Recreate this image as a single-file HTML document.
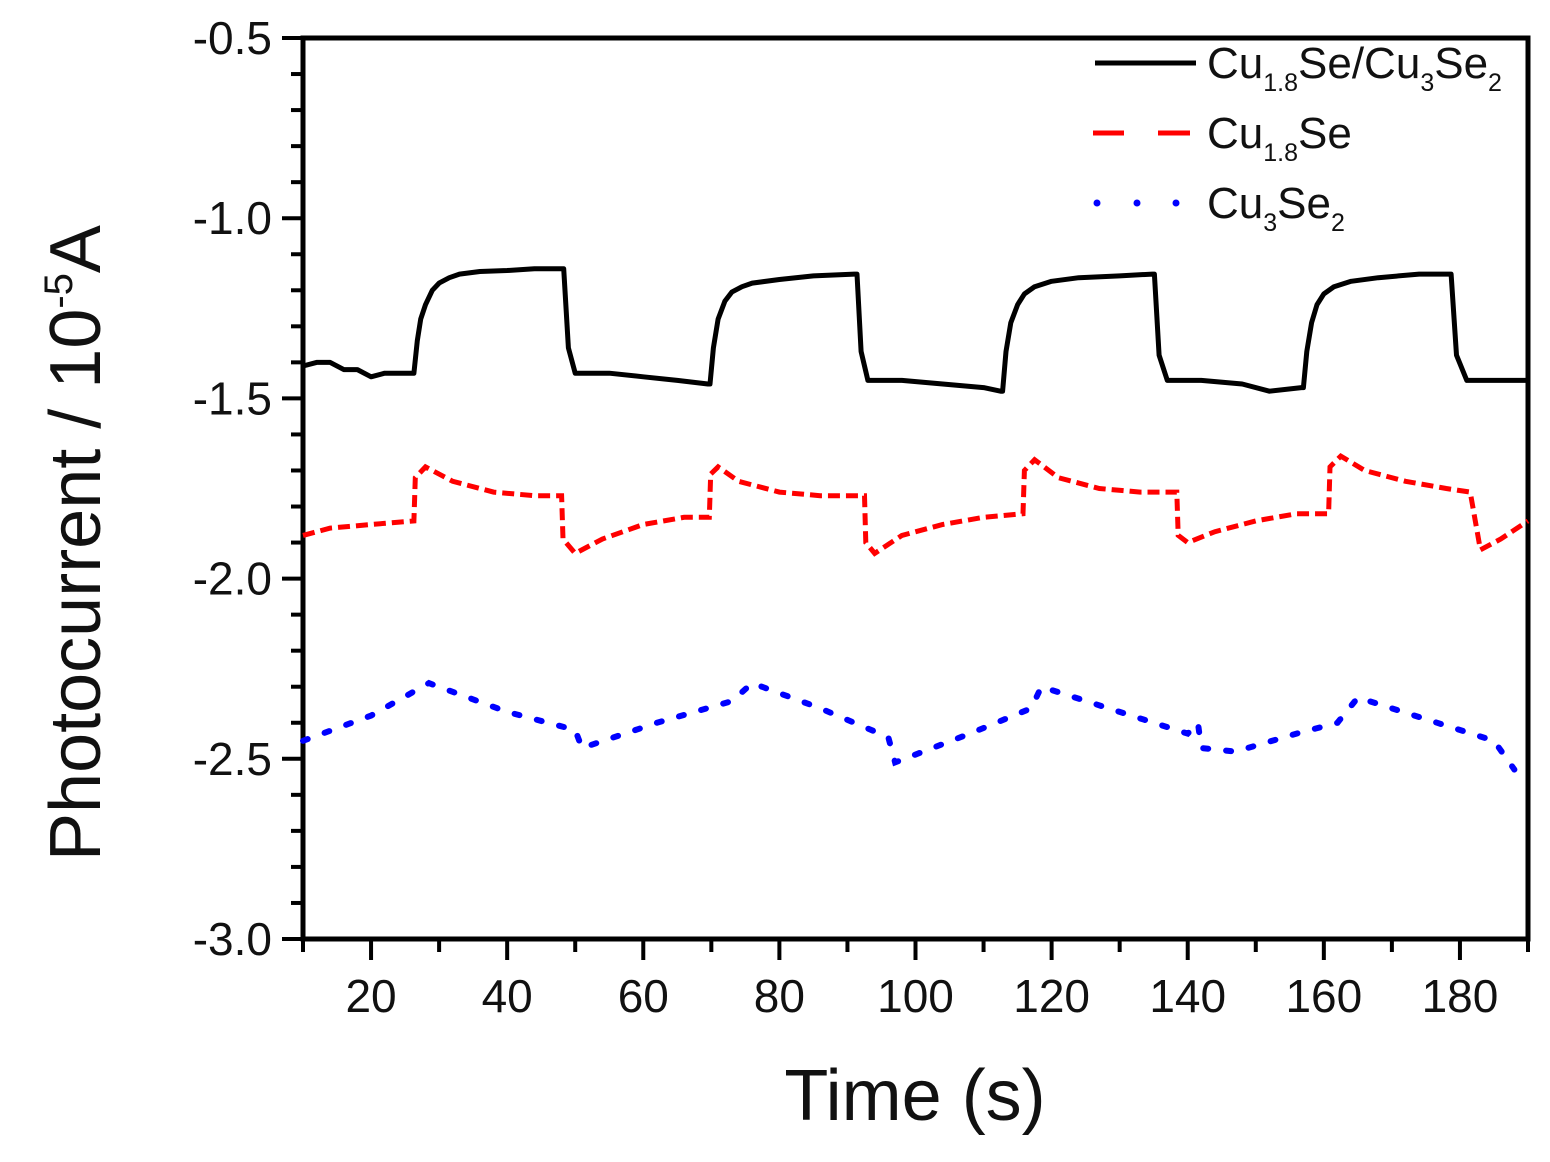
<!DOCTYPE html>
<html><head><meta charset="utf-8"><style>
html,body{margin:0;padding:0;background:#fff;}
svg{display:block;font-family:"Liberation Sans",sans-serif;}
</style></head><body>
<svg id="chart" width="1550" height="1162" viewBox="0 0 1550 1162" xmlns="http://www.w3.org/2000/svg">
<rect width="1550" height="1162" fill="#fff"/>
<g id="axes"></g>
<g id="series"></g>
<g>
 <line x1="1095" y1="63" x2="1196" y2="63" stroke="#000" stroke-width="5"/>
 <text x="1207" y="78" font-size="44" fill="#111">Cu<tspan font-size="25" dy="13">1.8</tspan><tspan dy="-13">Se/Cu</tspan><tspan font-size="25" dy="13">3</tspan><tspan dy="-13">Se</tspan><tspan font-size="25" dy="13">2</tspan></text>
 <line x1="1093" y1="133" x2="1124" y2="133" stroke="#f00" stroke-width="5"/>
 <line x1="1158" y1="133" x2="1190" y2="133" stroke="#f00" stroke-width="5"/>
 <text x="1207" y="148" font-size="44" fill="#111">Cu<tspan font-size="25" dy="13">1.8</tspan><tspan dy="-13">Se</tspan></text>
 <circle cx="1097" cy="203" r="3.5" fill="#00f"/><circle cx="1137" cy="203" r="3.5" fill="#00f"/><circle cx="1176" cy="203" r="3.5" fill="#00f"/>
 <text x="1207" y="218" font-size="44" fill="#111">Cu<tspan font-size="25" dy="13">3</tspan><tspan dy="-13">Se</tspan><tspan font-size="25" dy="13">2</tspan></text>
</g>
<text x="915" y="1120" font-size="72" text-anchor="middle" fill="#111">Time (s)</text>
<text transform="translate(100,543) rotate(-90)" font-size="72" text-anchor="middle" fill="#111">Photocurrent / 10<tspan font-size="40" dy="-28">-5</tspan><tspan dy="28">A</tspan></text>
</svg>
<script>
const xTicks=[20,40,60,80,100,120,140,160,180];
const yTicks=[-0.5,-1.0,-1.5,-2.0,-2.5,-3.0];
const yTickLabels=["-0.5","-1.0","-1.5","-2.0","-2.5","-3.0"];
const blackT=[10,12,14,16,18,20,22,25,26.3,26.8,27.3,28,29,30,31.5,33,36,40,44,48,48.3,49,50,55,60,65,69.5,69.8,70.3,71,72,73,74.5,76,80,85,91,91.4,92,93,98,104,110,112.5,112.8,113.3,114,115,116,117.5,120,124,130,134.8,135.1,135.8,137,142,148,152,156.7,157,157.5,158.2,159,160,161.5,164,168,174,178.4,178.7,179.5,181,185,190];
const blackV=[-1.41,-1.40,-1.40,-1.42,-1.42,-1.44,-1.43,-1.43,-1.43,-1.34,-1.28,-1.24,-1.20,-1.18,-1.165,-1.155,-1.148,-1.145,-1.14,-1.14,-1.14,-1.36,-1.43,-1.43,-1.44,-1.45,-1.46,-1.46,-1.36,-1.28,-1.23,-1.205,-1.19,-1.18,-1.17,-1.16,-1.155,-1.155,-1.37,-1.45,-1.45,-1.46,-1.47,-1.48,-1.48,-1.37,-1.29,-1.24,-1.21,-1.19,-1.175,-1.165,-1.16,-1.155,-1.155,-1.38,-1.45,-1.45,-1.46,-1.48,-1.47,-1.47,-1.37,-1.29,-1.24,-1.21,-1.19,-1.175,-1.165,-1.155,-1.155,-1.155,-1.38,-1.45,-1.45,-1.45];
const redT=[10,14,20,26.3,26.5,28,32,38,44,48,48.2,50,54,60,66,69.7,69.9,71,74,80,86,92.5,92.7,94,98,104,110,115.8,116,117.5,121,127,133,138.4,138.6,140,144,150,156,160.7,160.9,162.5,166,172,178,181.5,183,186,190];
const redV=[-1.88,-1.86,-1.85,-1.84,-1.72,-1.69,-1.73,-1.76,-1.77,-1.77,-1.89,-1.93,-1.89,-1.85,-1.83,-1.83,-1.71,-1.69,-1.73,-1.76,-1.77,-1.77,-1.90,-1.93,-1.88,-1.85,-1.83,-1.82,-1.70,-1.67,-1.72,-1.75,-1.76,-1.76,-1.88,-1.90,-1.87,-1.84,-1.82,-1.82,-1.69,-1.66,-1.70,-1.73,-1.75,-1.76,-1.92,-1.89,-1.84];
const blueT=[10,20,28.5,40,50,51,62,73,76,86,96,97,108,117,118.5,130,140,141.5,142,147,156,162,165,175,185,188];
const blueV=[-2.45,-2.38,-2.29,-2.37,-2.42,-2.47,-2.40,-2.34,-2.29,-2.36,-2.44,-2.51,-2.43,-2.36,-2.30,-2.37,-2.43,-2.40,-2.47,-2.48,-2.43,-2.40,-2.33,-2.39,-2.45,-2.53];
const X0=303,X1=1528,Y0=38,Y1=939;
const xs=t=>X0+(t-10)/180*(X1-X0);
const ys=v=>Y0+(-0.5-v)/2.5*(Y1-Y0);
const NS="http://www.w3.org/2000/svg";
function mk(tag,attrs,parent){const e=document.createElementNS(NS,tag);for(const k in attrs)e.setAttribute(k,attrs[k]);parent.appendChild(e);return e;}
const ax=document.getElementById('axes');
const frame=mk('rect',{x:X0,y:Y0,width:X1-X0,height:Y1-Y0,fill:'none',stroke:'#000','stroke-width':5},ax);


for(let t=10;t<=190;t+=10){
  const major=t%20===0;
  const tk=mk('line',{x1:xs(t),x2:xs(t),y1:Y1,y2:Y1+(major?21:13),stroke:'#000','stroke-width':4},ax);
  
  
}
xTicks.forEach(t=>{
  const l=mk('text',{x:xs(t),y:1012,'font-size':46,'text-anchor':'middle',fill:'#111'},ax);
  l.textContent=String(t);
  
  
});
for(let i=0;i<=25;i++){
  const v=-0.5-i*0.1;const major=i%5===0;
  const tk=mk('line',{x1:X0-(major?21:12),x2:X0,y1:ys(v),y2:ys(v),stroke:'#000','stroke-width':4},ax);
  
  
}
yTicks.forEach((v,i)=>{
  const l=mk('text',{x:272,y:ys(v)+16,'font-size':46,'text-anchor':'end',fill:'#111'},ax);
  l.textContent=yTickLabels[i];
  
  
});
const sg=document.getElementById('series');
function pts(T,V){return T.map((t,i)=>xs(t).toFixed(1)+','+ys(V[i]).toFixed(1)).join(' ');}
const pb=mk('polyline',{points:pts(blackT,blackV),fill:'none',stroke:'#000','stroke-width':5,'stroke-linejoin':'round'},sg);


const pr=mk('polyline',{points:pts(redT,redV),fill:'none',stroke:'#f00','stroke-width':5,'stroke-dasharray':'12 6'},sg);


const pbl=mk('polyline',{points:pts(blueT,blueV),fill:'none',stroke:'#00f','stroke-width':6,'stroke-dasharray':'5 18','stroke-linecap':'round'},sg);


</script>
</body></html>
